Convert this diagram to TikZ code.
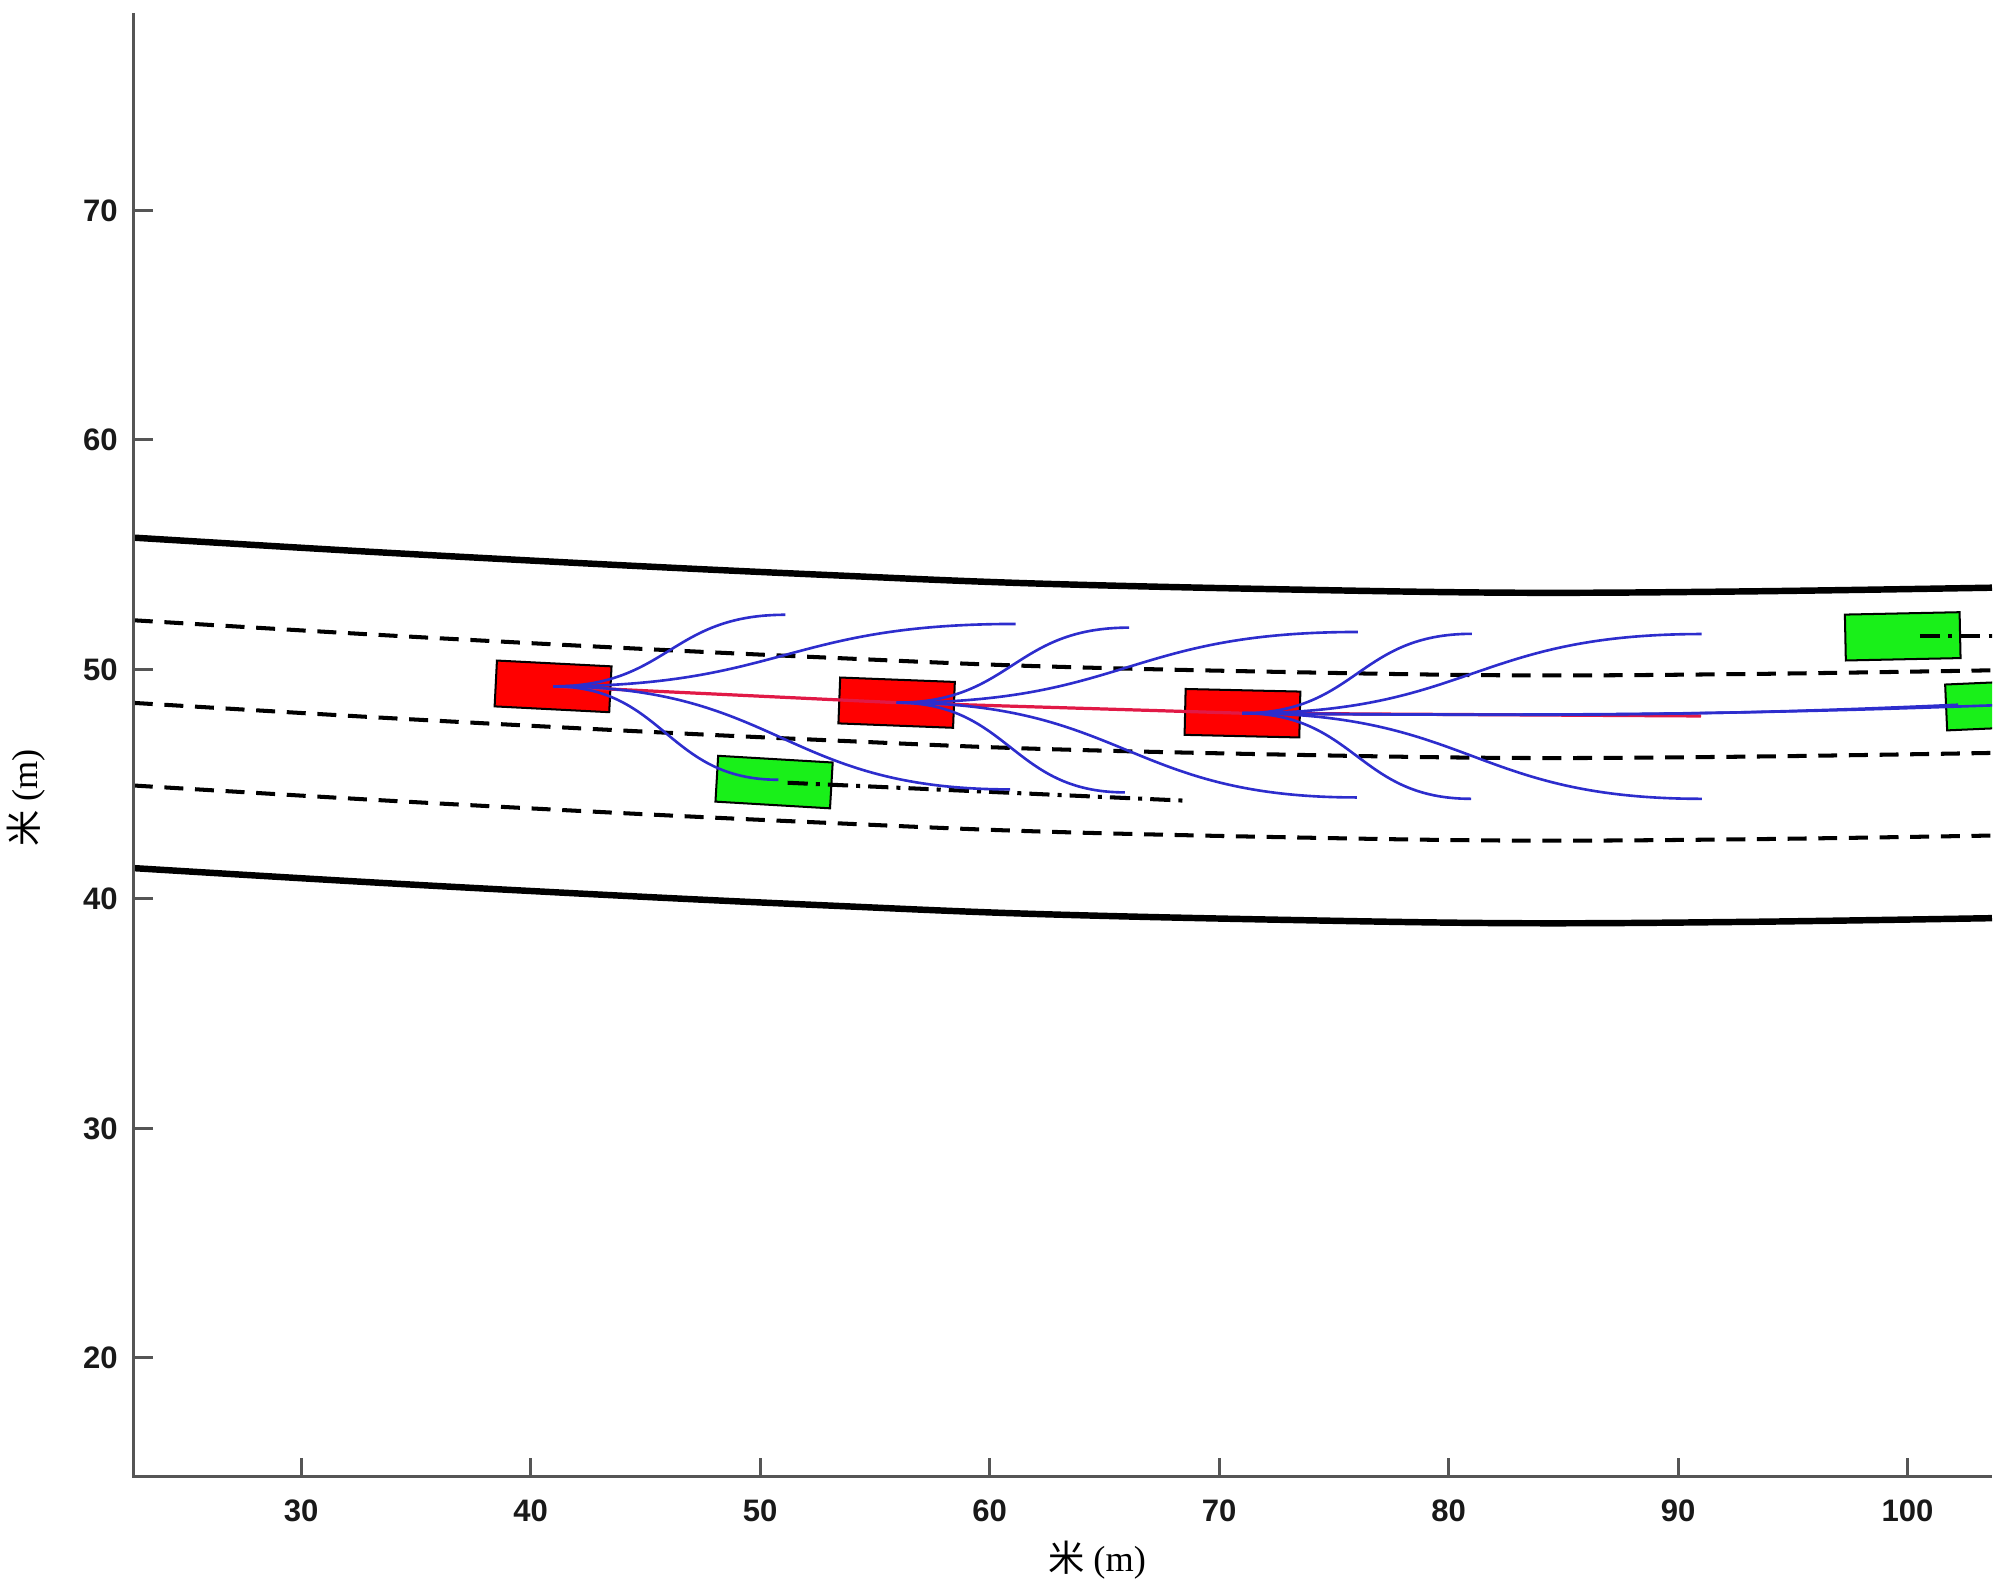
\documentclass[tikz,border=0pt]{standalone}
\usepackage{fontspec}
\setmainfont{Liberation Serif}
\newfontfamily\tickfont{Liberation Sans}
\newfontfamily\cjkfont{Noto Sans CJK SC}
\definecolor{carred}{RGB}{255,0,0}
\definecolor{cargreen}{RGB}{25,240,25}
\definecolor{trajblue}{RGB}{45,45,205}
\definecolor{pathred}{RGB}{225,25,70}
\definecolor{axisgray}{RGB}{85,85,85}
\begin{document}
\begin{tikzpicture}[x=0.2cm,y=0.2cm,
  axisline/.style={draw=axisgray, line width=0.75pt},
  ticklabel/.style={font=\tickfont\bfseries\fontsize{7.7}{8}\selectfont, inner sep=0pt, text=black!90},
  axlabel/.style={font=\fontsize{9}{10}\selectfont, inner sep=0pt},
  roadedge/.style={line width=1.6pt, black},
  laneline/.style={line width=1pt, black, dash pattern=on 4.7pt off 2.9pt},
  predline/.style={line width=1pt, black, dash pattern=on 5pt off 2pt on 1pt off 2pt},
  carbox/.style={draw=black, line width=0.5pt, minimum width=1cm, minimum height=0.4cm, inner sep=0pt},
  fan/.style={trajblue, line width=0.65pt},
  plan/.style={pathred, line width=0.8pt},
]
\useasboundingbox (16.88,10.20) rectangle (104.03,79.17);

\begin{scope}
\clip (22.71,14.81) rectangle (103.68,78.61);
% road
\foreach \o/\sty in {0/roadedge,3.6/laneline,7.2/laneline,10.8/laneline,14.4/roadedge}
  \draw[\sty, shift={(0,-\o)}] plot[smooth, tension=0.6] coordinates {(22.71,55.74) (33.44,55.10) (44.33,54.52) (53,54.11) (61.76,53.75) (72.65,53.49) (83.0,53.34) (93.13,53.40) (103.68,53.56)};

% cars
\node[carbox, fill=cargreen, rotate=-3.35] (g1) at (50.61,45.09) {};
\node[carbox, fill=cargreen, rotate=1.2] (g2) at (99.79,51.44) {};
\node[carbox, fill=cargreen, rotate=2.5] (g3) at (104.18,48.45) {};
\node[carbox, fill=carred, rotate=-2.9] (r1) at (40.98,49.26) {};
\node[carbox, fill=carred, rotate=-2.2] (r2) at (55.95,48.55) {};
\node[carbox, fill=carred, rotate=-1.3] (r3) at (71.02,48.09) {};

% predicted paths of the other cars
\coordinate (g1s) at (51.2,45.06);
\coordinate (g1e) at (68.5,44.28);
\coordinate (g2s) at (100.54,51.47);
\coordinate (g2e) at (104.5,51.47);
\draw[predline] (g1s) -- (g1e);
\draw[predline] (g2s) -- (g2e);

% planned path
\coordinate (pend) at (91.0,47.97);
\draw[plan] (r1.center) -- (r2.center) -- (r3.center) -- (pend);

% candidate trajectories, car 1
\coordinate (a1) at (51.1,52.38);
\coordinate (a2) at (61.14,51.98);
\coordinate (a3) at (50.8,45.19);
\coordinate (a4) at (60.9,44.77);
\draw[fan] (r1.center) .. controls (46.04,49.26) and (46.04,52.38) .. (a1);
\draw[fan] (r1.center) .. controls (51.06,49.26) and (51.06,51.98) .. (a2);
\draw[fan] (r1.center) .. controls (45.89,49.26) and (45.89,45.19) .. (a3);
\draw[fan] (r1.center) .. controls (50.94,49.26) and (50.94,44.77) .. (a4);
% car 2
\coordinate (b1) at (66.08,51.82);
\coordinate (b2) at (76.05,51.63);
\coordinate (b3) at (65.9,44.64);
\coordinate (b4) at (76.0,44.42);
\draw[fan] (r2.center) .. controls (61.0,48.55) and (61.0,51.82) .. (b1);
\draw[fan] (r2.center) .. controls (66.0,48.55) and (66.0,51.63) .. (b2);
\draw[fan] (r2.center) .. controls (60.92,48.55) and (60.92,44.64) .. (b3);
\draw[fan] (r2.center) .. controls (65.97,48.55) and (65.97,44.42) .. (b4);
% car 3
\coordinate (c1) at (81.02,51.55);
\coordinate (c2) at (91.03,51.54);
\coordinate (c3) at (80.98,44.36);
\coordinate (c4) at (91.04,44.36);
\coordinate (c5) at (102.2,48.46);
\coordinate (c6) at (103.9,48.44);
\draw[fan] (r3.center) .. controls (76.02,48.09) and (76.02,51.55) .. (c1);
\draw[fan] (r3.center) .. controls (81.03,48.09) and (81.03,51.54) .. (c2);
\draw[fan] (r3.center) .. controls (76.0,48.09) and (76.0,44.36) .. (c3);
\draw[fan] (r3.center) .. controls (81.03,48.09) and (81.03,44.36) .. (c4);
\draw[fan] (r3.center) .. controls (85,47.95) and (92,48.0) .. (c5);
\draw[fan] (r3.center) .. controls (85,47.95) and (93,48.05) .. (c6);
\end{scope}

% axes
\coordinate (otop) at (22.71,78.61);
\coordinate (o) at (22.71,14.81);
\coordinate (oright) at (103.68,14.81);
\draw[axisline] (otop) -- (o) -- (oright);
\foreach \x in {30,40,...,100} {
  \draw[axisline] (\x,14.81) -- (\x,15.64);
  \node[ticklabel, anchor=base] (xt\x) at (\x,12.85) {\x};
}
\foreach \y in {20,30,...,70} {
  \draw[axisline] (22.71,\y) -- (23.54,\y);
  \node[ticklabel, anchor=base east] (yt\y) at (22.04,\y-0.48) {\y};
}
\node[axlabel] (xlab) at (64.68,11.2) {{\cjkfont 米} (m)};
\node[axlabel, rotate=90] (ylab) at (18.0,44.4) {{\cjkfont 米} (m)};
\end{tikzpicture}
\end{document}
